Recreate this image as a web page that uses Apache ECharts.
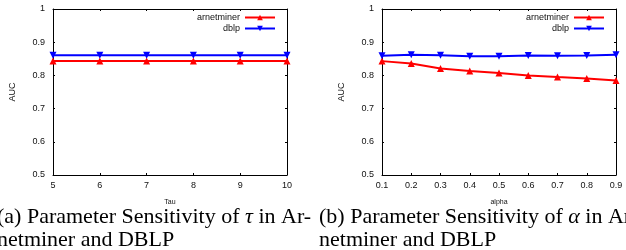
<!DOCTYPE html>
<html>
<head>
<meta charset="utf-8">
<script src="https://cdn.jsdelivr.net/npm/echarts@6/dist/echarts.min.js"></script>
<style>
  html, body { margin: 0; padding: 0; background: #fff; }
  #chart { width: 626px; height: 250px; }
</style>
</head>
<body>
<div id="chart"></div>
<script>
// 数据
const tauValues = [5, 6, 7, 8, 9, 10];
const tauArnetminer = [0.843, 0.843, 0.843, 0.843, 0.843, 0.843];
const tauDblp = [0.861, 0.861, 0.861, 0.861, 0.861, 0.861];

const alphaValues = [0.1, 0.2, 0.3, 0.4, 0.5, 0.6, 0.7, 0.8, 0.9];
const alphaArnetminer = [0.843, 0.836, 0.821, 0.813, 0.807, 0.800, 0.795, 0.791, 0.785];
const alphaDblp = [0.859, 0.862, 0.861, 0.858, 0.858, 0.860, 0.859, 0.860, 0.862];

const yTicks = [0.5, 0.6, 0.7, 0.8, 0.9, 1];

const chart = echarts.init(document.getElementById('chart'));

const font = 'Liberation Sans, Arial, sans-serif';
const labelStyle = { color: '#111', fontSize: 9, fontFamily: font };

function pairs(xs, ys) {
    return xs.map((x, i) => [x, ys[i]]);
}

// 底部/左侧主轴 + 顶部/右侧镜像刻度
function xAxes(grid, min, max, interval, name, fmt) {
    return [
        {
            type: 'value', gridIndex: grid, min: min, max: max, interval: interval,
            name: name, nameLocation: 'middle', nameGap: 24,
            nameTextStyle: { fontSize: 7, color: '#111', fontFamily: font },
            axisLine: { show: true, onZero: false, lineStyle: { color: '#000', width: 1 } },
            axisTick: { inside: true, length: 2, lineStyle: { color: '#000' } },
            axisLabel: Object.assign({ margin: 6, formatter: fmt }, labelStyle),
            splitLine: { show: false }
        },
        {
            type: 'value', gridIndex: grid, min: min, max: max, interval: interval,
            position: 'top',
            axisLine: { show: true, onZero: false, lineStyle: { color: '#000', width: 1 } },
            axisTick: { inside: true, length: 2, lineStyle: { color: '#000' } },
            axisLabel: { show: false },
            splitLine: { show: false }
        }
    ];
}

function yAxes(grid) {
    return [
        {
            type: 'value', gridIndex: grid, min: 0.5, max: 1, interval: 0.1,
            name: 'AUC', nameLocation: 'middle', nameGap: 36, nameRotate: 90,
            nameTextStyle: { fontSize: 9, color: '#111', fontFamily: font },
            axisLine: { show: true, onZero: false, lineStyle: { color: '#000', width: 1 } },
            axisTick: { inside: true, length: 2, lineStyle: { color: '#000' } },
            axisLabel: Object.assign({
                margin: 8,
                formatter: v => {
                    const t = yTicks.find(k => Math.abs(k - v) < 1e-6);
                    return t === undefined ? '' : String(t);
                }
            }, labelStyle),
            splitLine: { show: false }
        },
        {
            type: 'value', gridIndex: grid, min: 0.5, max: 1, interval: 0.1,
            position: 'right',
            axisLine: { show: true, onZero: false, lineStyle: { color: '#000', width: 1 } },
            axisTick: { inside: true, length: 2, lineStyle: { color: '#000' } },
            axisLabel: { show: false },
            splitLine: { show: false }
        }
    ];
}

function lineSeries(name, xi, yi, data, color, rotate) {
    return {
        name: name, type: 'line', xAxisIndex: xi, yAxisIndex: yi,
        data: data, symbol: 'triangle', symbolSize: 7, symbolRotate: rotate,
        lineStyle: { color: color, width: 2 },
        itemStyle: { color: color },
        animation: false
    };
}

const legendBase = {
    orient: 'vertical', align: 'right', itemWidth: 30, itemHeight: 7, itemGap: 2,
    textStyle: { fontSize: 9, color: '#111', fontFamily: font },
    data: ['arnetminer', 'dblp']
};

const captionFont = '22px "Liberation Serif", "Times New Roman", serif';
const captionRich = { i: { fontStyle: 'italic', fontSize: 22, fontFamily: 'Liberation Serif' } };

const option = {
    backgroundColor: '#fff',
    animation: false,
    grid: [
        { left: 53, top: 9, width: 234, height: 166 },
        { left: 382, top: 9, width: 234, height: 166 }
    ],
    xAxis: [].concat(
        xAxes(0, 5, 10, 1, 'Tau', v => String(Math.round(v))),
        xAxes(1, 0.1, 0.9, 0.1, 'alpha', v => v.toFixed(1))
    ),
    yAxis: [].concat(yAxes(0), yAxes(1)),
    legend: [
        Object.assign({ right: 345, top: 8 }, legendBase),
        Object.assign({ right: 16, top: 8 }, legendBase)
    ],
    series: [
        lineSeries('arnetminer', 0, 0, pairs(tauValues, tauArnetminer), '#ff0000', 0),
        lineSeries('dblp', 0, 0, pairs(tauValues, tauDblp), '#0000ff', 180),
        lineSeries('arnetminer', 2, 2, pairs(alphaValues, alphaArnetminer), '#ff0000', 0),
        lineSeries('dblp', 2, 2, pairs(alphaValues, alphaDblp), '#0000ff', 180)
    ],
    graphic: [
        {
            type: 'text', left: -3, top: 206,
            style: {
                text: '(a) Parameter Sensitivity of {i|τ} in Ar-\nnetminer and DBLP',
                font: captionFont, fill: '#000', lineHeight: 23, rich: captionRich
            }
        },
        {
            type: 'text', left: 319, top: 206,
            style: {
                text: '(b) Parameter Sensitivity of {i|α} in Ar-\nnetminer and DBLP',
                font: captionFont, fill: '#000', lineHeight: 23, rich: captionRich
            }
        }
    ]
};

chart.setOption(option);
window.addEventListener('resize', function () {
    chart.resize();
});
</script>
</body>
</html>
